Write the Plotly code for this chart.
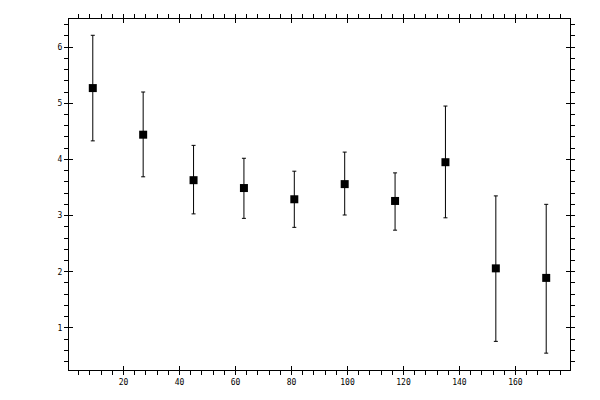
import plotly.graph_objects as go

x_vals = [9, 27, 45, 63, 81, 99, 117, 135, 153, 171]
y_vals = [5.27, 4.44, 3.63, 3.49, 3.29, 3.56, 3.26, 3.95, 2.06, 1.89]
err_plus = [0.94, 0.76, 0.62, 0.53, 0.50, 0.57, 0.50, 1.00, 1.29, 1.31]
err_minus = [0.94, 0.75, 0.60, 0.54, 0.50, 0.55, 0.52, 0.99, 1.30, 1.34]

fig = go.Figure()
fig.add_trace(go.Scatter(
    x=x_vals, y=y_vals, mode="markers",
    marker=dict(symbol="square", size=8, color="black"),
    error_y=dict(type="data", symmetric=False, array=err_plus, arrayminus=err_minus,
                 color="black", thickness=1, width=2),
    showlegend=False,
))

font = dict(family="DejaVu Sans Mono", size=8, color="black")
common = dict(showgrid=False, zeroline=False, showline=True, linecolor="black", linewidth=1,
              mirror="allticks", ticks="inside", ticklen=4, tickwidth=1, tickcolor="black",
              tickfont=font, ticklabelstandoff=4)
fig.update_xaxes(range=[0.5, 179.5], tick0=0, dtick=20,
                 minor=dict(ticks="outside", ticklen=4, dtick=4, tickcolor="black", tickwidth=1),
                 **common)
fig.update_yaxes(range=[0.25, 6.5], tick0=0, dtick=1,
                 minor=dict(ticks="outside", ticklen=4, dtick=0.2, tickcolor="black", tickwidth=1),
                 **common)
fig.update_layout(width=600, height=400, margin=dict(l=61, r=38, t=11, b=38),
                  plot_bgcolor="white", paper_bgcolor="white")
fig.write_html("out.html")
